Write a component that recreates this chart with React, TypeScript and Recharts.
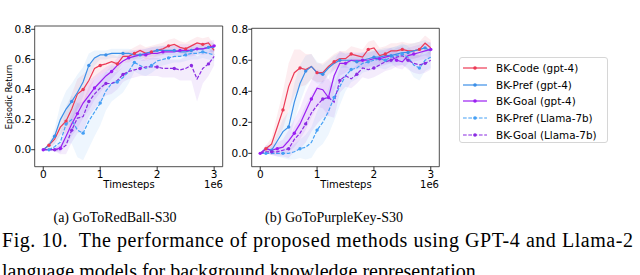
import { ComposedChart, Line, Area, XAxis, YAxis, ReferenceArea } from 'recharts';

// timesteps (x 1e6)
const STEPS = [0, 0.1, 0.2, 0.3, 0.4, 0.5, 0.6, 0.7, 0.8, 0.9, 1.0, 1.1, 1.2, 1.3, 1.4, 1.5, 1.6, 1.7, 1.8, 1.9, 2.0, 2.1, 2.2, 2.3, 2.4, 2.5, 2.6, 2.7, 2.8, 2.9, 3.0];
const X_TICKS = [0, 1, 2, 3];
const Y_TICKS = [0, 0.2, 0.4, 0.6, 0.8];

// (a) GoToRedBall-S30
const RB_CODE = [0, 0.03, 0.07, 0.15, 0.19, 0.27, 0.37, 0.4, 0.46, 0.54, 0.56, 0.57, 0.585, 0.57, 0.62, 0.62, 0.64, 0.66, 0.64, 0.65, 0.66, 0.67, 0.69, 0.7, 0.68, 0.67, 0.69, 0.71, 0.7, 0.71, 0.66];
const RB_PREF = [0, 0.03, 0.09, 0.2, 0.27, 0.32, 0.38, 0.45, 0.56, 0.61, 0.63, 0.63, 0.64, 0.64, 0.64, 0.64, 0.63, 0.63, 0.64, 0.65, 0.66, 0.66, 0.66, 0.66, 0.65, 0.65, 0.66, 0.67, 0.67, 0.68, 0.68];
const RB_GOAL = [0, 0, 0, 0.01, 0.09, 0.17, 0.24, 0.31, 0.36, 0.41, 0.45, 0.49, 0.52, 0.56, 0.59, 0.61, 0.62, 0.63, 0.63, 0.64, 0.64, 0.65, 0.65, 0.65, 0.66, 0.66, 0.66, 0.67, 0.67, 0.68, 0.69];
const RB_PREF_LLAMA = [0, 0, 0.02, 0.05, 0.17, 0.2, 0.13, 0.11, 0.19, 0.25, 0.31, 0.39, 0.44, 0.45, 0.48, 0.52, 0.58, 0.56, 0.54, 0.56, 0.59, 0.6, 0.61, 0.62, 0.62, 0.63, 0.64, 0.64, 0.65, 0.64, 0.63];
const RB_GOAL_LLAMA = [0, 0, 0, 0, 0.03, 0.13, 0.21, 0.22, 0.32, 0.37, 0.41, 0.44, 0.44, 0.46, 0.5, 0.52, 0.53, 0.54, 0.55, 0.55, 0.55, 0.54, 0.54, 0.54, 0.53, 0.54, 0.56, 0.47, 0.54, 0.57, 0.62];

const RB_CODE_SD = [0, 0.02, 0.03, 0.05, 0.08, 0.1, 0.1, 0.1, 0.08, 0.07, 0.06, 0.05, 0.05, 0.05, 0.04, 0.04, 0.04, 0.04, 0.04, 0.04, 0.04, 0.04, 0.04, 0.04, 0.04, 0.04, 0.04, 0.04, 0.04, 0.04, 0.04];
const RB_PREF_SD = [0, 0.02, 0.05, 0.1, 0.12, 0.12, 0.12, 0.1, 0.08, 0.05, 0.03, 0.03, 0.03, 0.03, 0.03, 0.03, 0.03, 0.03, 0.03, 0.03, 0.03, 0.03, 0.03, 0.03, 0.03, 0.03, 0.03, 0.03, 0.03, 0.03, 0.03];
const RB_GOAL_SD = [0, 0, 0.01, 0.03, 0.06, 0.08, 0.1, 0.1, 0.1, 0.08, 0.07, 0.06, 0.05, 0.05, 0.04, 0.04, 0.04, 0.04, 0.04, 0.04, 0.04, 0.04, 0.04, 0.04, 0.04, 0.04, 0.04, 0.04, 0.04, 0.04, 0.04];
const RB_PREF_LLAMA_SD = [0, 0.01, 0.03, 0.06, 0.12, 0.16, 0.18, 0.18, 0.18, 0.16, 0.15, 0.13, 0.12, 0.1, 0.1, 0.08, 0.06, 0.06, 0.05, 0.05, 0.05, 0.04, 0.04, 0.04, 0.04, 0.04, 0.04, 0.04, 0.04, 0.04, 0.04];
const RB_GOAL_LLAMA_SD = [0, 0, 0.01, 0.03, 0.06, 0.08, 0.1, 0.1, 0.1, 0.1, 0.09, 0.08, 0.07, 0.06, 0.05, 0.05, 0.05, 0.05, 0.06, 0.06, 0.06, 0.06, 0.06, 0.06, 0.07, 0.08, 0.1, 0.15, 0.1, 0.08, 0.06];

// (b) GoToPurpleKey-S30
const PK_CODE = [0, 0.03, 0.06, 0.17, 0.28, 0.43, 0.52, 0.55, 0.54, 0.56, 0.52, 0.52, 0.56, 0.59, 0.61, 0.61, 0.64, 0.63, 0.62, 0.67, 0.68, 0.63, 0.64, 0.66, 0.66, 0.67, 0.66, 0.66, 0.67, 0.71, 0.68];
const PK_PREF = [0, 0.03, 0.02, 0.08, 0.14, 0.17, 0.33, 0.45, 0.53, 0.56, 0.52, 0.51, 0.55, 0.58, 0.6, 0.6, 0.6, 0.59, 0.6, 0.61, 0.62, 0.62, 0.63, 0.63, 0.64, 0.65, 0.65, 0.66, 0.67, 0.68, 0.66];
const PK_GOAL = [0, 0.03, 0.02, 0.03, 0.04, 0.08, 0.13, 0.19, 0.27, 0.35, 0.42, 0.41, 0.36, 0.5, 0.58, 0.58, 0.6, 0.6, 0.6, 0.6, 0.61, 0.61, 0.62, 0.63, 0.6, 0.59, 0.63, 0.64, 0.65, 0.66, 0.67];
const PK_PREF_LLAMA = [0, 0, 0, 0, 0, 0, 0.01, 0.03, 0.04, 0.07, 0.15, 0.2, 0.27, 0.36, 0.43, 0.5, 0.54, 0.55, 0.58, 0.59, 0.6, 0.61, 0.6, 0.62, 0.63, 0.64, 0.62, 0.57, 0.55, 0.6, 0.62];
const PK_GOAL_LLAMA = [0, 0.01, 0.01, 0.01, 0.02, 0.03, 0.09, 0.13, 0.19, 0.26, 0.31, 0.35, 0.36, 0.33, 0.47, 0.5, 0.48, 0.51, 0.55, 0.54, 0.55, 0.57, 0.59, 0.6, 0.62, 0.63, 0.6, 0.58, 0.57, 0.58, 0.6];

const PK_CODE_SD = [0, 0.02, 0.04, 0.08, 0.12, 0.15, 0.15, 0.12, 0.1, 0.08, 0.06, 0.06, 0.05, 0.05, 0.05, 0.05, 0.05, 0.05, 0.05, 0.05, 0.05, 0.05, 0.05, 0.05, 0.05, 0.05, 0.05, 0.05, 0.05, 0.05, 0.05];
const PK_PREF_SD = [0, 0.02, 0.03, 0.05, 0.08, 0.1, 0.12, 0.12, 0.1, 0.08, 0.07, 0.06, 0.05, 0.05, 0.05, 0.05, 0.05, 0.05, 0.05, 0.05, 0.05, 0.05, 0.05, 0.05, 0.05, 0.05, 0.05, 0.05, 0.05, 0.05, 0.05];
const PK_GOAL_SD = [0, 0.02, 0.03, 0.04, 0.05, 0.07, 0.09, 0.1, 0.12, 0.12, 0.12, 0.12, 0.12, 0.1, 0.08, 0.06, 0.05, 0.05, 0.05, 0.05, 0.05, 0.05, 0.05, 0.05, 0.05, 0.05, 0.05, 0.05, 0.05, 0.05, 0.05];
const PK_PREF_LLAMA_SD = [0, 0, 0.01, 0.02, 0.03, 0.04, 0.05, 0.06, 0.08, 0.1, 0.12, 0.14, 0.15, 0.15, 0.12, 0.1, 0.08, 0.07, 0.06, 0.06, 0.06, 0.06, 0.06, 0.06, 0.06, 0.07, 0.07, 0.08, 0.08, 0.07, 0.07];
const PK_GOAL_LLAMA_SD = [0, 0.01, 0.02, 0.03, 0.04, 0.06, 0.08, 0.1, 0.12, 0.12, 0.12, 0.12, 0.12, 0.1, 0.08, 0.07, 0.06, 0.06, 0.06, 0.06, 0.06, 0.06, 0.06, 0.06, 0.06, 0.06, 0.06, 0.06, 0.06, 0.06, 0.06];

type Series = { key: string; name: string; color: string; dashed: boolean; mark: number };

const SERIES: Series[] = [
  { key: 'code', name: 'BK-Code (gpt-4)', color: '#ec3a55', dashed: false, mark: 1 },
  { key: 'pref', name: 'BK-Pref (gpt-4)', color: '#3b8fe8', dashed: false, mark: 2 },
  { key: 'goal', name: 'BK-Goal (gpt-4)', color: '#9b1ff2', dashed: false, mark: 0 },
  { key: 'prefL', name: 'BK-Pref (Llama-7b)', color: '#45a0f5', dashed: true, mark: 1 },
  { key: 'goalL', name: 'BK-Goal (Llama-7b)', color: '#8a2be2', dashed: true, mark: 2 },
];

function buildRows(vals: Record<string, number[]>, sds: Record<string, number[]>) {
  return STEPS.map((x, i) => {
    const row: Record<string, any> = { x };
    SERIES.forEach(s => {
      const v = vals[s.key][i];
      const d = sds[s.key][i];
      row[s.key] = v;
      row[s.key + 'Band'] = [v - d, v + d];
    });
    return row;
  });
}

const redBall = buildRows(
  { code: RB_CODE, pref: RB_PREF, goal: RB_GOAL, prefL: RB_PREF_LLAMA, goalL: RB_GOAL_LLAMA },
  { code: RB_CODE_SD, pref: RB_PREF_SD, goal: RB_GOAL_SD, prefL: RB_PREF_LLAMA_SD, goalL: RB_GOAL_LLAMA_SD },
);
const purpleKey = buildRows(
  { code: PK_CODE, pref: PK_PREF, goal: PK_GOAL, prefL: PK_PREF_LLAMA, goalL: PK_GOAL_LLAMA },
  { code: PK_CODE_SD, pref: PK_PREF_SD, goal: PK_GOAL_SD, prefL: PK_PREF_LLAMA_SD, goalL: PK_GOAL_LLAMA_SD },
);

const MPL = '"DejaVu Sans", sans-serif';
const tick = { fontSize: 10.5, fill: '#000', fontFamily: MPL };
const X_DOMAIN: [number, number] = [-0.15, 3.15];

function markDot(color: string, every: number, offset: number) {
  return (p: any) => {
    if (p.index % every !== offset || p.cx == null) return <g key={p.index} />;
    return <circle key={p.index} cx={p.cx} cy={p.cy} r={1.7} fill={color} stroke="none" />;
  };
}

type PanelProps = {
  data: any[]; left: number; width: number; top: number; right: number; yAxisW: number; yDomain: [number, number];
};

function Panel({ data, left, width, top, right, yAxisW, yDomain }: PanelProps) {
  return (
    <div style={{ position: 'absolute', left, top: 0 }}>
      <ComposedChart width={width} height={200} data={data} margin={{ top, right, bottom: 13.3, left: 0 }}>
        <XAxis dataKey="x" type="number" domain={X_DOMAIN} ticks={X_TICKS} allowDataOverflow
          axisLine={false} tickLine={{ stroke: '#000', strokeWidth: 0.8 }} tickSize={3.5} tickMargin={0}
          tick={tick} height={20} />
        <YAxis type="number" domain={yDomain} ticks={Y_TICKS} allowDataOverflow width={yAxisW}
          axisLine={false} tickLine={{ stroke: '#000', strokeWidth: 0.8 }} tickSize={3.5} tickMargin={0}
          tick={tick} tickFormatter={(v: number) => v.toFixed(1)} />
        {SERIES.map(s => (
          <Area key={s.key + 'Band'} dataKey={s.key + 'Band'} type="linear" stroke="none"
            fill={s.color} fillOpacity={0.09} isAnimationActive={false} />
        ))}
        {SERIES.map(s => (
          <Line key={s.key} dataKey={s.key} type="linear" stroke={s.color} strokeWidth={1.2}
            strokeDasharray={s.dashed ? '3.7 1.6' : undefined}
            dot={markDot(s.color, 3, s.mark)} activeDot={false} isAnimationActive={false} />
        ))}
        <ReferenceArea x1={X_DOMAIN[0]} x2={X_DOMAIN[1]} y1={yDomain[0]} y2={yDomain[1]}
          fill="none" stroke="#222" strokeWidth={0.8} ifOverflow="visible" />
      </ComposedChart>
    </div>
  );
}

const label = (extra: React.CSSProperties): React.CSSProperties => ({
  position: 'absolute', fontFamily: MPL, color: '#000', whiteSpace: 'nowrap', lineHeight: 1, ...extra,
});

export default function App() {
  return (
    <div style={{ position: 'absolute', left: 0, top: 0, width: 640, height: 275, background: '#fff', overflow: 'hidden' }}>
      <Panel data={redBall} left={0} width={230} top={26} right={7.3} yAxisW={34.7} yDomain={[-0.113, 0.822]} />
      <Panel data={purpleKey} left={210} width={240} top={28.3} right={10.7} yAxisW={41.7} yDomain={[-0.086, 0.806]} />

      <div style={label({ left: 9, top: 97, fontSize: 8.3, transform: 'translate(-50%, -50%) rotate(-90deg)' })}>Episodic Return</div>
      <div style={label({ left: 129, top: 185, fontSize: 10, transform: 'translate(-50%, -50%)' })}>Timesteps</div>
      <div style={label({ left: 223, top: 185, fontSize: 10, transform: 'translate(-100%, -50%)' })}>1e6</div>
      <div style={label({ left: 346, top: 185, fontSize: 10, transform: 'translate(-50%, -50%)' })}>Timesteps</div>
      <div style={label({ left: 439, top: 185, fontSize: 10, transform: 'translate(-100%, -50%)' })}>1e6</div>

      <div style={{ position: 'absolute', left: 459, top: 57, width: 149, height: 86, border: '1px solid #d6d6d6', borderRadius: 3, boxSizing: 'border-box' }}>
        {SERIES.map((s, i) => (
          <div key={s.key} style={{ position: 'absolute', left: 3, top: 10 + i * 16.7 - 6, height: 12, display: 'flex', alignItems: 'center' }}>
            <svg width={24} height={12}>
              <line x1={0} y1={6} x2={24} y2={6} stroke={s.color} strokeWidth={1.2} strokeDasharray={s.dashed ? '3.7 1.6' : undefined} />
              <circle cx={12} cy={6} r={1.8} fill={s.color} />
            </svg>
            <span style={{ marginLeft: 9, fontFamily: MPL, fontSize: 10.4, color: '#000', whiteSpace: 'nowrap' }}>{s.name}</span>
          </div>
        ))}
      </div>

      <svg width={640} height={275} style={{ position: 'absolute', left: 0, top: 0 }}>
        <g fontFamily='"Liberation Serif", "Times New Roman", serif' fill="#000">
          <text x={115} y={222} fontSize={14} textAnchor="middle">(a) GoToRedBall-S30</text>
          <text x={334} y={222} fontSize={14} textAnchor="middle">(b) GoToPurpleKey-S30</text>
          <text x={2} y={247} fontSize={20} textLength={631} lengthAdjust="spacing">{'Fig. 10.\u00A0 The performance of proposed methods using GPT-4 and Llama-2'}</text>
          <text x={2} y={278} fontSize={20}>language models for background knowledge representation.</text>
        </g>
      </svg>
    </div>
  );
}
